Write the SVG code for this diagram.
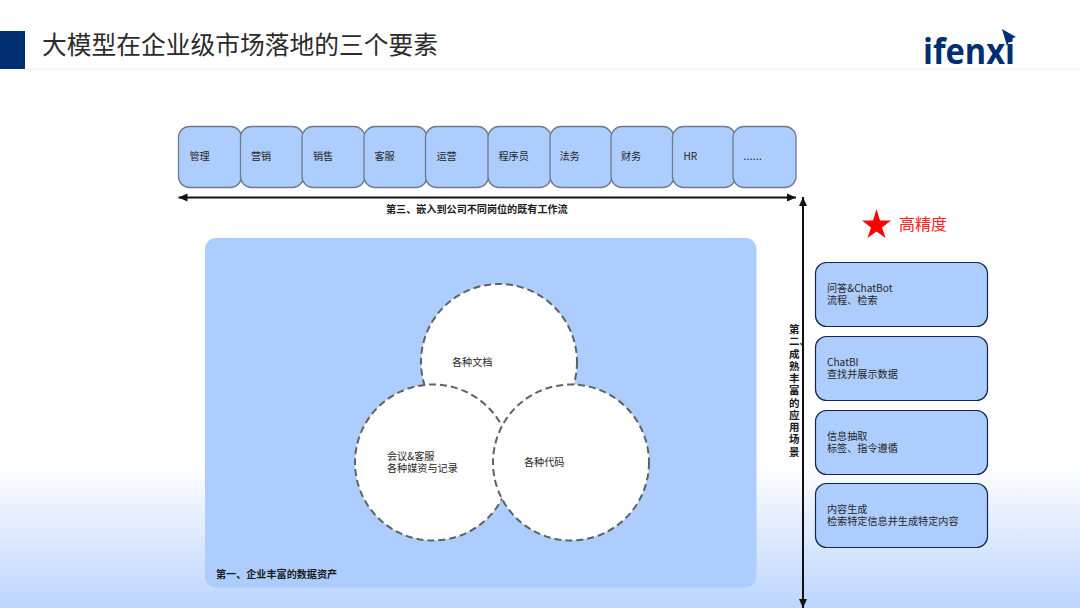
<svg xmlns="http://www.w3.org/2000/svg" width="1080" height="608" viewBox="0 0 1080 608">
<style>
text{font-family:"Noto Sans CJK SC","Liberation Sans",sans-serif;fill:#262626}
.t{font-size:10.15px}
.role{fill:#aecdff;stroke:#6f7b8a;stroke-width:1.3}
.app{fill:#aecdff;stroke:#14264d;stroke-width:1.2}
.c{fill:#fff;stroke:#5f6360;stroke-width:2;stroke-dasharray:7 4}
.b{font-size:10.1px;font-weight:700;fill:#1a1a1a}
.ln{fill:none;stroke:#111;stroke-width:2}
</style>
<defs>
<linearGradient id="bg" x1="0" y1="0" x2="0" y2="1"><stop offset="0" stop-color="#fff"/><stop offset="0.76" stop-color="#fff"/><stop offset="1" stop-color="#bcd5ff"/></linearGradient>
<marker id="ah" markerUnits="userSpaceOnUse" markerWidth="10" markerHeight="10" refX="9" refY="5" orient="auto-start-reverse"><path d="M0,1L9,5L0,9z" fill="#111"/></marker>
</defs>
<rect id="background" width="1080" height="608" fill="url(#bg)"/>
<g id="header">
<rect x="0" y="31" width="25" height="38" fill="#002e73"/>
<rect x="25" y="68.500" width="1055" height="1.500" fill="#f1f2f4"/>
<text x="42" y="54" style="font-size:24.75px;fill:#2b2b2b">大模型在企业级市场落地的三个要素</text>
</g>
<g id="logo">
<text x="923" y="63.500" style="font-family:'Open Sans',sans-serif;font-size:36px;font-weight:700;fill:#002e73" textLength="92" lengthAdjust="spacingAndGlyphs">ifenxi</text>
<path d="M1002,29L1016,37L1010,39L1007,46z" fill="#002e73"/>
</g>
<g id="connectors">
<path class="ln" d="M178.500,197.500H796" marker-start="url(#ah)" marker-end="url(#ah)"/>
<path class="ln" d="M803,197V608" marker-start="url(#ah)" marker-end="url(#ah)"/>
</g>
<text id="label-third" class="b" x="386" y="213">第三、嵌入到公司不同岗位的既有工作流</text>
<g id="roles">
<g id="role-1"><rect class="role" x="178.500" y="126.500" width="63" height="61" rx="11"/><text class="t" x="189.500" y="160">管理</text></g>
<g id="role-2"><rect class="role" x="240.500" y="126.500" width="63" height="61" rx="11"/><text class="t" x="251" y="160">营销</text></g>
<g id="role-3"><rect class="role" x="302" y="126.500" width="63" height="61" rx="11"/><text class="t" x="313" y="160">销售</text></g>
<g id="role-4"><rect class="role" x="364" y="126.500" width="63" height="61" rx="11"/><text class="t" x="374.500" y="160">客服</text></g>
<g id="role-5"><rect class="role" x="425.500" y="126.500" width="63" height="61" rx="11"/><text class="t" x="436.500" y="160">运营</text></g>
<g id="role-6"><rect class="role" x="488" y="126.500" width="63" height="61" rx="11"/><text class="t" x="498.500" y="160">程序员</text></g>
<g id="role-7"><rect class="role" x="550" y="126.500" width="62" height="61" rx="11"/><text class="t" x="559.500" y="160">法务</text></g>
<g id="role-8"><rect class="role" x="611" y="126.500" width="63" height="61" rx="11"/><text class="t" x="621" y="160">财务</text></g>
<g id="role-9"><rect class="role" x="672.500" y="126.500" width="63" height="61" rx="11"/><text class="t" x="683.500" y="160">HR</text></g>
<g id="role-10"><rect class="role" x="733" y="126.500" width="63" height="61" rx="11"/><text class="t" x="743.500" y="160" style="letter-spacing:.3px">......</text></g>
</g>
<g id="data-assets">
<rect x="205" y="238" width="551.500" height="349.500" rx="11" fill="#aecdff"/>
<text class="b" x="216" y="577.500">第一、企业丰富的数据资产</text>
</g>
<g id="circle-docs"><circle class="c" cx="499" cy="362" r="78"/><text class="t" x="452" y="365.500">各种文档</text></g>
<g id="circle-meetings"><circle class="c" cx="433" cy="462.500" r="78"/><text class="t"><tspan x="387" y="459.500">会议&amp;客服</tspan><tspan x="387" y="472">各种媒资与记录</tspan></text></g>
<g id="circle-code"><circle class="c" cx="571" cy="462.500" r="78"/><text class="t" x="524" y="466">各种代码</text></g>
<g id="label-second">
<text class="b" style="font-size:10.5px"><tspan x="789" y="333">第</tspan><tspan x="789" y="345.300">二、</tspan><tspan x="789" y="357.500">成</tspan><tspan x="789" y="369.800">熟</tspan><tspan x="789" y="382">丰</tspan><tspan x="789" y="394.300">富</tspan><tspan x="789" y="406.500">的</tspan><tspan x="789" y="418.800">应</tspan><tspan x="789" y="431">用</tspan><tspan x="789" y="443.300">场</tspan><tspan x="789" y="455.500">景</tspan></text>
</g>
<g id="high-precision">
<path d="M876.500,209L880,220.500H891L882,227.500L885.500,238L876.500,231.500L867.500,238L871,227.500L862,220.500H873z" fill="#ff0000"/>
<text x="899" y="229.500" style="font-size:16px;fill:#ff2020">高精度</text>
</g>
<g id="apps">
<g id="app-1"><rect class="app" x="815.500" y="262.500" width="172" height="64" rx="11"/><text class="t"><tspan x="827" y="292">问答&amp;ChatBot</tspan><tspan x="827" y="304">流程、检索</tspan></text></g>
<g id="app-2"><rect class="app" x="815.500" y="336.500" width="172" height="64" rx="11"/><text class="t"><tspan x="827" y="366">ChatBI</tspan><tspan x="827" y="378">查找并展示数据</tspan></text></g>
<g id="app-3"><rect class="app" x="815.500" y="410.500" width="172" height="64" rx="11"/><text class="t"><tspan x="827" y="440">信息抽取</tspan><tspan x="827" y="452">标签、指令遵循</tspan></text></g>
<g id="app-4"><rect class="app" x="815.500" y="483.500" width="172" height="64" rx="11"/><text class="t"><tspan x="827" y="513">内容生成</tspan><tspan x="827" y="525">检索特定信息并生成特定内容</tspan></text></g>
</g>
</svg>
